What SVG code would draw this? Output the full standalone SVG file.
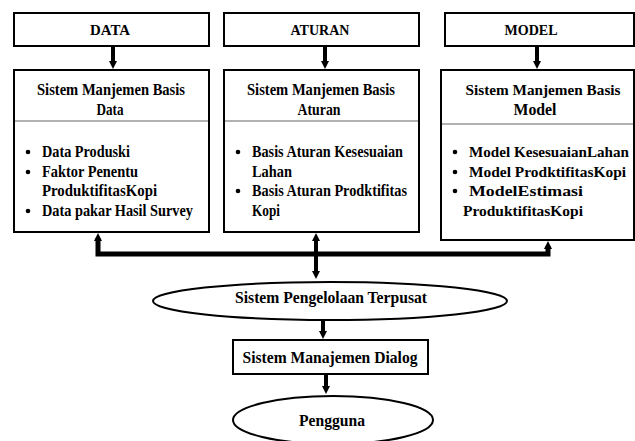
<svg xmlns="http://www.w3.org/2000/svg" width="635" height="441" viewBox="0 0 635 441">
  <defs>
    <marker id="arrow" viewBox="0 0 8 8" refX="3" refY="4" markerWidth="8" markerHeight="8" markerUnits="userSpaceOnUse" orient="auto-start-reverse">
      <path d="M0,0 L8,4 L0,8 z" fill="#000"/>
    </marker>
  </defs>
  <style>
    .box { fill: #fff; stroke: #000; stroke-width: 2; }
    .div { stroke: #666; stroke-width: 1.2; }
    text { font-family: 'Liberation Serif', 'DejaVu Serif', serif; font-weight: bold; font-size: 17px; fill: #000; }
    .c { text-anchor: middle; }
    .s { font-size: 15.5px; }
    .wire { fill: none; stroke: #000; stroke-width: 4; }
    .bus { fill: none; stroke: #000; stroke-width: 5; }
    .dot { fill: #000; }
  </style>

  <rect width="635" height="441" fill="#fff"/>

  <!-- Links between blocks -->
  <g id="connectors">
    <line class="wire" x1="113" y1="46" x2="113" y2="64" marker-end="url(#arrow)"/>
    <line class="wire" x1="325" y1="46" x2="325" y2="64" marker-end="url(#arrow)"/>
    <line class="wire" x1="537" y1="46" x2="537" y2="64" marker-end="url(#arrow)"/>
    <polyline class="bus" points="98,238 98,254 548,254 548,246"/>
    <line class="wire" x1="98" y1="254" x2="98" y2="238" marker-end="url(#arrow)"/>
    <line class="wire" x1="548" y1="254" x2="548" y2="246" marker-end="url(#arrow)"/>
    <line class="wire" x1="316" y1="238" x2="316" y2="274" marker-start="url(#arrow)" marker-end="url(#arrow)"/>
    <line class="wire" x1="323" y1="320" x2="323" y2="334" marker-end="url(#arrow)"/>
    <line class="wire" x1="326" y1="374" x2="326" y2="389" marker-end="url(#arrow)"/>
  </g>

  <!-- Source blocks -->
  <g id="data">
    <rect class="box" x="14" y="13" width="195" height="33"/>
    <text class="c s" x="110" y="35" textLength="40" lengthAdjust="spacingAndGlyphs">DATA</text>
  </g>
  <g id="aturan">
    <rect class="box" x="224" y="13" width="195" height="33"/>
    <text class="c s" x="320" y="35" textLength="59" lengthAdjust="spacingAndGlyphs">ATURAN</text>
  </g>
  <g id="model">
    <rect class="box" x="445" y="13" width="189" height="33"/>
    <text class="c s" x="531" y="35" textLength="53" lengthAdjust="spacingAndGlyphs">MODEL</text>
  </g>

  <!-- Management subsystems -->
  <g id="sm-data">
    <rect class="box" x="14" y="70" width="195" height="162"/>
    <line class="div" x1="15" y1="121" x2="208" y2="121"/>
    <text class="c" x="111" y="95" textLength="148" lengthAdjust="spacingAndGlyphs">Sistem Manjemen Basis</text>
    <text class="c" x="110" y="115" textLength="27" lengthAdjust="spacingAndGlyphs">Data</text>
    <circle class="dot" cx="28" cy="152" r="2.3"/>
    <circle class="dot" cx="28" cy="172" r="2.3"/>
    <circle class="dot" cx="28" cy="211" r="2.3"/>
    <text x="42" y="157" textLength="88" lengthAdjust="spacingAndGlyphs">Data Produski</text>
    <text x="42" y="177" textLength="96" lengthAdjust="spacingAndGlyphs">Faktor Penentu</text>
    <text x="42" y="196" textLength="115" lengthAdjust="spacingAndGlyphs">ProduktifitasKopi</text>
    <text x="42" y="216" textLength="151" lengthAdjust="spacingAndGlyphs">Data pakar Hasil Survey</text>
  </g>
  <g id="sm-aturan">
    <rect class="box" x="224" y="70" width="195" height="162"/>
    <line class="div" x1="225" y1="121" x2="418" y2="121"/>
    <text class="c" x="321" y="95" textLength="148" lengthAdjust="spacingAndGlyphs">Sistem Manjemen Basis</text>
    <text class="c" x="319" y="115" textLength="43" lengthAdjust="spacingAndGlyphs">Aturan</text>
    <circle class="dot" cx="238" cy="152" r="2.3"/>
    <circle class="dot" cx="238" cy="191" r="2.3"/>
    <text x="252" y="157" textLength="151" lengthAdjust="spacingAndGlyphs">Basis Aturan Kesesuaian</text>
    <text x="252" y="177" textLength="40" lengthAdjust="spacingAndGlyphs">Lahan</text>
    <text x="252" y="196" textLength="155" lengthAdjust="spacingAndGlyphs">Basis Aturan Prodktifitas</text>
    <text x="252" y="216" textLength="28" lengthAdjust="spacingAndGlyphs">Kopi</text>
  </g>
  <g id="sm-model">
    <rect class="box" x="441" y="70" width="193" height="170"/>
    <line class="div" x1="442" y1="124" x2="633" y2="124"/>
    <text class="c s" x="543" y="95" textLength="155" lengthAdjust="spacingAndGlyphs">Sistem Manjemen Basis</text>
    <text class="c" x="535" y="115" textLength="43" lengthAdjust="spacingAndGlyphs">Model</text>
    <circle class="dot" cx="455" cy="152" r="2.3"/>
    <circle class="dot" cx="455" cy="172" r="2.3"/>
    <circle class="dot" cx="455" cy="191" r="2.3"/>
    <text class="s" x="469" y="157" textLength="160" lengthAdjust="spacingAndGlyphs">Model KesesuaianLahan</text>
    <text class="s" x="469" y="177" textLength="157" lengthAdjust="spacingAndGlyphs">Model ProdktifitasKopi</text>
    <text class="s" x="469" y="196" textLength="114" lengthAdjust="spacingAndGlyphs">ModelEstimasi</text>
    <text class="s" x="463" y="216" textLength="120" lengthAdjust="spacingAndGlyphs">ProduktifitasKopi</text>
  </g>

  <!-- Central processing and user side -->
  <g id="pengelolaan">
    <ellipse class="box" cx="330" cy="301" rx="177" ry="19"/>
    <text class="c" x="331" y="303" textLength="192" lengthAdjust="spacingAndGlyphs">Sistem Pengelolaan Terpusat</text>
  </g>
  <g id="dialog">
    <rect class="box" x="233" y="340" width="195" height="34"/>
    <text class="c" x="330" y="363" textLength="175" lengthAdjust="spacingAndGlyphs">Sistem Manajemen Dialog</text>
  </g>
  <g id="pengguna">
    <ellipse class="box" cx="333" cy="420" rx="100" ry="24"/>
    <text class="c" x="332" y="426" textLength="66" lengthAdjust="spacingAndGlyphs">Pengguna</text>
  </g>
</svg>
